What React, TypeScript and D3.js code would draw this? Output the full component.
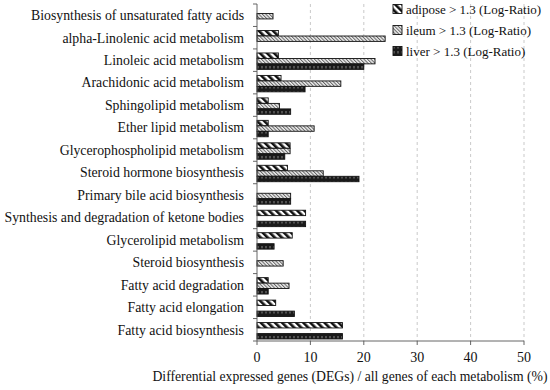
import React, { useEffect, useRef } from 'react';
import * as d3 from 'd3';

const categories = [
  'Biosynthesis of unsaturated fatty acids',
  'alpha-Linolenic acid metabolism',
  'Linoleic acid metabolism',
  'Arachidonic acid metabolism',
  'Sphingolipid metabolism',
  'Ether lipid metabolism',
  'Glycerophospholipid metabolism',
  'Steroid hormone biosynthesis',
  'Primary bile acid biosynthesis',
  'Synthesis and degradation of ketone bodies',
  'Glycerolipid metabolism',
  'Steroid biosynthesis',
  'Fatty acid degradation',
  'Fatty acid  elongation',
  'Fatty acid biosynthesis',
];

const seriesNames = ['adipose > 1.3 (Log-Ratio)', 'ileum > 1.3 (Log-Ratio)', 'liver > 1.3 (Log-Ratio)'];
const seriesKeys = ['adipose', 'ileum', 'liver'];

const adipose = [0, 4, 4, 4.5, 2.1, 2.1, 6.2, 5.7, 0, 9.1, 6.6, 0, 2.1, 3.5, 16];
const ileum = [3, 24, 22.1, 15.7, 4.2, 10.7, 6.2, 12.4, 6.3, 0, 0, 4.9, 6, 0, 0];
const liver = [0, 0, 20, 9, 6.3, 2.1, 5.2, 19.1, 6.3, 9.1, 3.2, 0, 2.1, 7, 16];

const xTicks = [0, 10, 20, 30, 40, 50];

export default function App() {
  const ref = useRef<SVGSVGElement>(null);

  useEffect(() => {
    const svg = d3.select(ref.current);
    svg.selectAll('*').remove();

    const w = 550, h = 390;
    const left = 257, right = 524, top = 4, bottom = 341;
    const font = '"Liberation Serif", serif';

    const defs = svg.append('defs');
    // adipose: black diagonal stripes
    const p1 = defs.append('pattern').attr('id', 'pat-adipose')
      .attr('patternUnits', 'userSpaceOnUse').attr('width', 5).attr('height', 5)
      .attr('patternTransform', 'rotate(-45)');
    p1.append('rect').attr('width', 5).attr('height', 5).attr('fill', '#fff');
    p1.append('rect').attr('width', 2.6).attr('height', 5).attr('fill', '#111');
    // ileum: fine grey hatch
    const p2 = defs.append('pattern').attr('id', 'pat-ileum')
      .attr('patternUnits', 'userSpaceOnUse').attr('width', 2.5).attr('height', 2.5)
      .attr('patternTransform', 'rotate(-45)');
    p2.append('rect').attr('width', 2.5).attr('height', 2.5).attr('fill', '#eee');
    p2.append('rect').attr('width', 1).attr('height', 2.5).attr('fill', '#666');
    // liver: dark with light dashes
    const p3 = defs.append('pattern').attr('id', 'pat-liver')
      .attr('patternUnits', 'userSpaceOnUse').attr('width', 4).attr('height', 5);
    p3.append('rect').attr('width', 4).attr('height', 5).attr('fill', '#1a1a1a');
    p3.append('rect').attr('x', 1.5).attr('y', 1).attr('width', 1).attr('height', 2.5).attr('fill', '#888');

    const x = d3.scaleLinear().domain([0, 50]).range([left, right]);
    const y = d3.scaleBand<string>().domain(categories).range([top, bottom]).paddingInner(0).paddingOuter(0);
    const inner = d3.scaleBand<string>().domain(seriesKeys).range([0, y.bandwidth()]).paddingOuter(0.55).paddingInner(0.02);

    // grid
    svg.append('g').selectAll('line').data(xTicks.slice(1)).enter().append('line')
      .attr('x1', d => x(d)).attr('x2', d => x(d)).attr('y1', top).attr('y2', bottom)
      .attr('stroke', '#bbb').attr('stroke-width', 0.8).attr('stroke-dasharray', '3,3');

    const data = [adipose, ileum, liver];
    const g = svg.append('g');
    seriesKeys.forEach((k, si) => {
      g.selectAll('rect.' + k).data(categories).enter().append('rect')
        .filter((d, i) => data[si][i] > 0)
        .attr('x', x(0))
        .attr('y', d => (y(d) as number) + (inner(k) as number) + 1)
        .attr('width', d => x(data[si][categories.indexOf(d)]) - x(0))
        .attr('height', inner.bandwidth())
        .attr('fill', `url(#pat-${k})`)
        .attr('stroke', '#111').attr('stroke-width', 0.9);
    });

    // y axis
    const yAxis = svg.append('g');
    yAxis.append('line').attr('x1', left).attr('x2', left).attr('y1', top).attr('y2', bottom)
      .attr('stroke', '#555').attr('stroke-width', 0.9);
    const bounds = [...categories.map(c => y(c) as number), bottom];
    yAxis.selectAll('line.tk').data(bounds).enter().append('line')
      .attr('x1', left - 4).attr('x2', left).attr('y1', d => d).attr('y2', d => d)
      .attr('stroke', '#555').attr('stroke-width', 0.9);
    yAxis.selectAll('text').data(categories).enter().append('text')
      .attr('x', 244).attr('y', d => (y(d) as number) + y.bandwidth() / 2)
      .attr('dy', '0.35em').attr('text-anchor', 'end')
      .attr('font-family', font).attr('font-size', 13.8).attr('fill', '#111')
      .text(d => d);

    // x axis
    const xAxis = svg.append('g');
    xAxis.append('line').attr('x1', left).attr('x2', right).attr('y1', bottom).attr('y2', bottom)
      .attr('stroke', '#555').attr('stroke-width', 0.9);
    xAxis.selectAll('line.tk').data(xTicks).enter().append('line')
      .attr('x1', d => x(d)).attr('x2', d => x(d)).attr('y1', bottom).attr('y2', bottom + 4)
      .attr('stroke', '#555').attr('stroke-width', 0.9);
    xAxis.selectAll('text').data(xTicks).enter().append('text')
      .attr('x', d => x(d)).attr('y', 362).attr('text-anchor', 'middle')
      .attr('font-family', font).attr('font-size', 14).attr('fill', '#111')
      .text(d => d);
    svg.append('text').attr('x', 350).attr('y', 381).attr('text-anchor', 'middle')
      .attr('font-family', font).attr('font-size', 13.7).attr('fill', '#111')
      .text('Differential expressed genes (DEGs) / all genes of each metabolism (%)');

    // legend
    const lg = svg.append('g');
    seriesKeys.forEach((k, i) => {
      const yy = 9 + i * 21;
      lg.append('rect').attr('x', 393).attr('y', yy - 4.5).attr('width', 9).attr('height', 9)
        .attr('fill', `url(#pat-${k})`).attr('stroke', '#111').attr('stroke-width', 0.9);
      lg.append('text').attr('x', 406).attr('y', yy).attr('dy', '0.35em')
        .attr('font-family', font).attr('font-size', 13).attr('fill', '#111')
        .text(seriesNames[i]);
    });

    svg.attr('width', w).attr('height', h);
  }, []);

  return (
    <svg ref={ref} width={550} height={390}
      style={{ position: 'absolute', left: 0, top: 0, background: '#fff' }}></svg>
  );
}
